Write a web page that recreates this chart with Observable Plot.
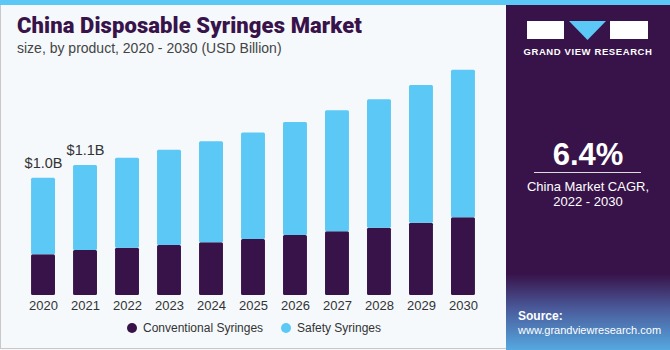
<!DOCTYPE html>
<html>
<head>
<meta charset="utf-8">
<script src="https://cdn.jsdelivr.net/npm/d3@7"></script>
<script src="https://cdn.jsdelivr.net/npm/@observablehq/plot@0.6"></script>
<style>
  html, body { margin: 0; padding: 0; }
  body { width: 670px; height: 350px; position: relative; overflow: hidden; background: #f5f9fc; font-family: "Liberation Sans", Arial, sans-serif; }
  #stripe { position: absolute; left: 0; top: 0; width: 670px; height: 5px; background: #5bc8f5; }
  #frame { position: absolute; left: 0; top: 5px; width: 669px; height: 344px; border-left: 1px solid #c8c8c8; border-bottom: 1px solid #c8c8c8; box-sizing: border-box; }
  #title { position: absolute; left: 17px; top: 13px; font-family: "Roboto", sans-serif; font-weight: 900; font-size: 22px; color: #38134a; white-space: nowrap; letter-spacing: 0.1px; }
  #subtitle { position: absolute; left: 17px; top: 40px; font-size: 14px; color: #444; white-space: nowrap; }
  #chart { position: absolute; left: 0; top: 0; }
  #legend { position: absolute; left: 0; top: 321px; width: 500px; font-size: 12px; color: #333; }
  .li { position: absolute; top: 0; white-space: nowrap; }
  .dot { display: inline-block; width: 10px; height: 10px; border-radius: 50%; vertical-align: -1px; margin-right: 6px; }
  #panel { position: absolute; left: 506px; top: 5px; width: 164px; height: 345px;
    background: linear-gradient(to bottom, #38134a 0%, #38134a 78%, #4a5a9a 88%, #55a8e0 100%); }
  .logo { position: absolute; }
  #gvr { position: absolute; left: 0; width: 164px; top: 41px; text-align: center; color: #fff; font-weight: bold; font-size: 9.5px; letter-spacing: 0.6px; white-space: nowrap; }
  #cagr { position: absolute; left: 0; width: 164px; top: 132px; text-align: center; color: #fff; font-weight: bold; font-size: 31px; }
  #rule { position: absolute; left: 28px; width: 107px; top: 167px; height: 1px; background: #ddd; }
  #cagrtxt { position: absolute; left: 0; width: 164px; top: 174px; text-align: center; color: #fff; font-size: 13px; line-height: 15px; }
  #source { position: absolute; left: 12px; top: 304px; color: #fff; font-size: 11px; line-height: 14px; white-space: nowrap; }
  #source b { font-size: 12px; }
</style>
</head>
<body>
<div id="stripe"></div>
<div id="frame"></div>
<div id="title">China Disposable Syringes Market</div>
<div id="subtitle">size, by product, 2020 - 2030 (USD Billion)</div>
<div id="chart"></div>
<div id="legend"></div>
<div id="panel">
  <div class="logo" style="left:21px; top:16px; width:37px; height:18px; background:#fff;"></div>
  <svg class="logo" style="left:58px; top:16px;" width="46" height="20"><polygon points="5,0 42,0 23.5,19" fill="#5bc8f5"/></svg>
  <div class="logo" style="left:104px; top:16px; width:38px; height:18px; background:#fff;"></div>
  <div id="gvr">GRAND VIEW RESEARCH</div>
  <div id="cagr">6.4%</div>
  <div id="rule"></div>
  <div id="cagrtxt">China Market CAGR,<br>2022 - 2030</div>
  <div id="source"><b>Source:</b><br>www.grandviewresearch.com</div>
</div>
<script>
const years = ["2020","2021","2022","2023","2024","2025","2026","2027","2028","2029","2030"];
const conventional = [0.346, 0.383, 0.403, 0.426, 0.449, 0.477, 0.511, 0.542, 0.573, 0.615, 0.661];
const safety = [0.652, 0.723, 0.766, 0.811, 0.859, 0.905, 0.962, 1.030, 1.093, 1.172, 1.257];
const seriesNames = ["Conventional Syringes", "Safety Syringes"];
const seriesColors = ["#38134a", "#5bc8f5"];
const valueLabels = ["$1.0B", "$1.1B", "", "", "", "", "", "", "", "", ""];

const data = [];
years.forEach((y, i) => {
  data.push({year: y, product: seriesNames[0], value: conventional[i]});
  data.push({year: y, product: seriesNames[1], value: safety[i]});
});
const totals = years.map((y, i) => ({year: y, total: conventional[i] + safety[i], label: valueLabels[i]})).filter(d => d.label);

const chart = Plot.plot({
  width: 500,
  height: 320,
  marginLeft: 13,
  marginRight: 7,
  marginTop: 60,
  marginBottom: 25,
  style: {background: "transparent", fontFamily: "Liberation Sans, Arial, sans-serif"},
  x: {domain: years, padding: 0.43, round: false, label: null},
  y: {domain: [0, 2], axis: null},
  color: {domain: seriesNames, range: seriesColors},
  marks: [
    Plot.barY(data, {x: "year", y: "value", fill: "product", order: seriesNames, rx: 1.5}),
    Plot.text(totals, {x: "year", y: "total", text: "label", dy: -15, fontSize: 14.5, fill: "#333"}),
    Plot.axisX({tickSize: 0, tickPadding: 5, fontSize: 13, color: "#333", label: null})
  ]
});
document.getElementById("chart").appendChild(chart);

const legend = document.getElementById("legend");
const lx = [127, 281];
seriesNames.forEach((n, i) => {
  const d = document.createElement("div");
  d.className = "li";
  d.style.left = lx[i] + "px";
  d.innerHTML = `<span class="dot" style="background:${seriesColors[i]}"></span>${n}`;
  legend.appendChild(d);
});
</script>
</body>
</html>
